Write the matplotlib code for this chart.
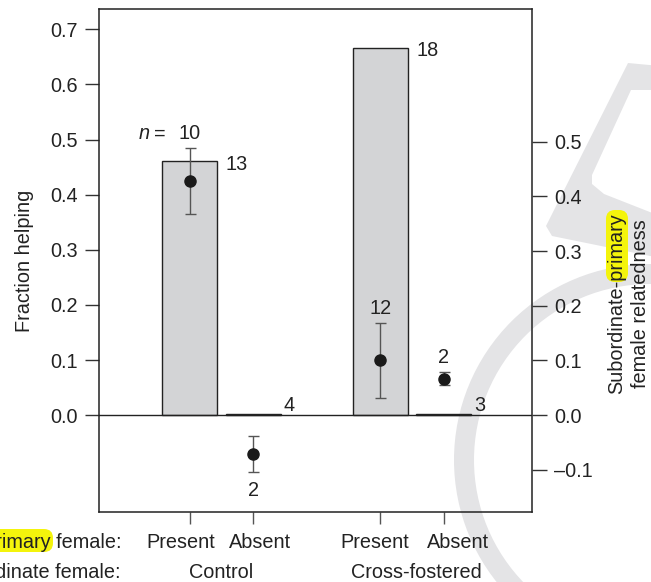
import matplotlib
matplotlib.use("Agg")
import matplotlib.pyplot as plt
from matplotlib.patches import Circle, Polygon, FancyBboxPatch

plt.rcParams['font.family'] = ['Liberation Sans', 'DejaVu Sans']

# ---------------- data ----------------
groups = ["Control", "Cross-fostered"]
primary_status = ["Present", "Absent", "Present", "Absent"]
fraction_helping = [0.461, 0.003, 0.667, 0.003]
bar_n = [13, 4, 18, 3]
relatedness = [0.428, -0.071, 0.100, 0.067]
rel_low = [0.368, -0.104, 0.031, 0.056]
rel_high = [0.488, -0.038, 0.169, 0.079]
point_n = [10, 2, 12, 2]
left_ticks = [0.0, 0.1, 0.2, 0.3, 0.4, 0.5, 0.6, 0.7]
left_ticklabels = ["0.0", "0.1", "0.2", "0.3", "0.4", "0.5", "0.6", "0.7"]
right_ticks = [-0.1, 0.0, 0.1, 0.2, 0.3, 0.4, 0.5]
right_ticklabels = ["\u20130.1", "0.0", "0.1", "0.2", "0.3", "0.4", "0.5"]

W, H = 651, 582
DPI = 100
FS = 14.3
PT = 72.0 / DPI  # points per pixel
TXT = "#222222"

fig = plt.figure(figsize=(W / DPI, H / DPI), dpi=DPI)
fig.patch.set_facecolor("white")


def fx(x):
    return x / W


def fy(y):
    return 1 - y / H


# background (watermark + highlights) in pixel coordinates
bg = fig.add_axes([0, 0, 1, 1], zorder=-5)
bg.set_xlim(0, W)
bg.set_ylim(H, 0)
bg.axis("off")
wm = "#e4e4e6"
bg.add_patch(Circle((650, 460), 186, fill=False, lw=20 * PT, ec=wm))
bg.add_patch(Polygon([(660, 66), (628, 63), (546, 226), (552, 236), (660, 258),
                      (660, 216), (604, 194), (592, 184), (592, 175), (631, 90),
                      (660, 90)], closed=True, fc=wm, ec="none"))
hl = "#f4f40c"
bg.add_patch(FancyBboxPatch((606, 210), 22, 72, boxstyle="round,pad=0,rounding_size=9",
                            fc=hl, ec="none"))
bg.add_patch(FancyBboxPatch((-20, 529), 73, 23, boxstyle="round,pad=0,rounding_size=9",
                            fc=hl, ec="none"))

# main axes
left, right, top, bottom = 99, 532.3, 9.3, 511.7
ax = fig.add_axes([fx(left), fy(bottom), fx(right - left), (bottom - top) / H])
ax.patch.set_visible(False)
xpos = [1, 2, 4, 5]
bw = 0.866
ax.bar(xpos, fraction_helping, width=bw, color="#d3d4d6", edgecolor=TXT,
       linewidth=1.0, zorder=2)
ax.axhline(0, color=TXT, lw=1.0, zorder=3)
ax.set_xlim(-0.433, 6.391)
ax.set_ylim(-0.1751, 0.7363)
ax.set_yticks(left_ticks)
ax.set_yticklabels(left_ticklabels, fontsize=FS, color=TXT)
ax.set_xticks(xpos)
ax.set_xticklabels([])
ax.tick_params(axis="y", direction="out", length=14.5 * PT, width=1.0, pad=7 * PT,
               color="#333333")
ax.tick_params(axis="x", direction="out", length=12 * PT, width=1.0, color="#555555")
for s in ax.spines.values():
    s.set_linewidth(1.1)
    s.set_color(TXT)

# bar n labels
bar_offsets = [(8.5, -1), (3, 10.5), (8.5, -0.5), (3, 10.5)]
for x, h, n, (dx, dy) in zip(xpos, fraction_helping, bar_n, bar_offsets):
    ax.annotate(str(n), xy=(x + bw / 2, h), xytext=(dx * PT, dy * PT),
                textcoords="offset points", ha="left", va="center_baseline",
                fontsize=FS, color=TXT)

# left axis label
fig.text(fx(25), fy(261), "Fraction helping", rotation=90, ha="center", va="center",
         fontsize=FS, color=TXT)

# relatedness axis
ax2 = ax.twinx()
ax2.patch.set_visible(False)
ax2.set_ylim(-0.1765, 0.7422)
ax2.set_yticks(right_ticks)
ax2.set_yticklabels(right_ticklabels, fontsize=FS, color=TXT)
ax2.tick_params(axis="y", direction="out", length=15 * PT, width=1.0, pad=7 * PT,
                color="#333333")
for s in ax2.spines.values():
    s.set_visible(False)
yerr = [[r - lo for r, lo in zip(relatedness, rel_low)],
        [hi - r for r, hi in zip(relatedness, rel_high)]]
ax2.errorbar(xpos, relatedness, yerr=yerr, fmt="o", color="#1a1a1a", ms=8,
             ecolor="#555555", elinewidth=1.0, capsize=5.5 * PT, capthick=1.0,
             zorder=5)
for i, (x, n) in enumerate(zip(xpos, point_n)):
    if relatedness[i] < 0:
        ax2.annotate(str(n), xy=(x, rel_low[i]), xytext=(0, -16.5 * PT),
                     textcoords="offset points", ha="center", va="center_baseline",
                     fontsize=FS, color=TXT)
    else:
        ax2.annotate(str(n), xy=(x, rel_high[i]), xytext=(0, 16.5 * PT),
                     textcoords="offset points", ha="center", va="center_baseline",
                     fontsize=FS, color=TXT)
ax2.annotate("=", xy=(xpos[0], rel_high[0]), xytext=(-30 * PT, 16.5 * PT),
             textcoords="offset points", ha="center", va="center_baseline",
             fontsize=FS, color=TXT)
ax2.annotate("n", xy=(xpos[0], rel_high[0]), xytext=(-46 * PT, 16.5 * PT),
             textcoords="offset points", ha="center", va="center_baseline",
             fontsize=FS, color=TXT, style="italic")

# right axis label (two lines)
fig.text(fx(617), fy(303.5), "Subordinate-primary", rotation=90, ha="center",
         va="center", fontsize=FS, color=TXT)
fig.text(fx(640), fy(303.5), "female relatedness", rotation=90, ha="center",
         va="center", fontsize=FS, color=TXT)

# bottom category labels
row1, row2 = 543, 572
for xc, lab in zip([181, 260, 375, 458], primary_status):
    fig.text(fx(xc), fy(row1), lab, ha="center", va="center", fontsize=FS, color=TXT)
for xc, lab in zip([221, 416], groups):
    fig.text(fx(xc), fy(row2), lab, ha="center", va="center", fontsize=FS, color=TXT)
fig.text(fx(121), fy(row1), "Primary female:", ha="right", va="center", fontsize=FS,
         color=TXT)
fig.text(fx(121), fy(row2), "Subordinate female:", ha="right", va="center", fontsize=FS,
         color=TXT)

fig.savefig("out.png", dpi=DPI)
